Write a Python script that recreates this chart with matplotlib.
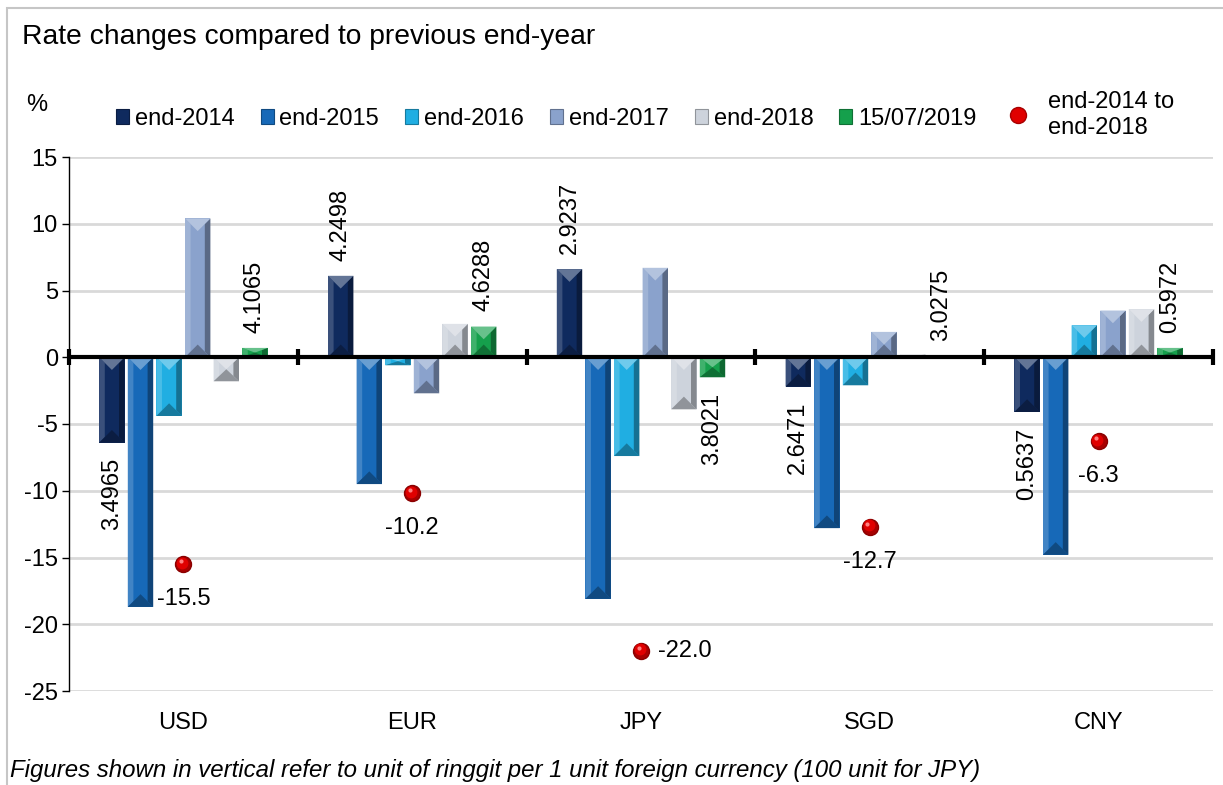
import numpy as np
import matplotlib
matplotlib.use("Agg")
import matplotlib.pyplot as plt
import matplotlib.transforms as mtransforms
from matplotlib import colors as mcolors
from matplotlib.patches import Polygon, Patch, Rectangle
from matplotlib.lines import Line2D

plt.rcParams['font.family'] = ['Liberation Sans', 'DejaVu Sans']
plt.rcParams['axes.unicode_minus'] = False

# --- data ---
CURRENCIES = ["USD", "EUR", "JPY", "SGD", "CNY"]
SERIES = ["end-2014", "end-2015", "end-2016", "end-2017", "end-2018", "15/07/2019"]
END_2014 = [-6.4, 6.1, 6.6, -2.2, -4.1]
END_2015 = [-18.7, -9.5, -18.1, -12.8, -14.8]
END_2016 = [-4.4, -0.6, -7.4, -2.1, 2.4]
END_2017 = [10.4, -2.7, 6.7, 1.9, 3.5]
END_2018 = [-1.8, 2.5, -3.9, 0.2, 3.6]
JUL_2019 = [0.7, 2.3, -1.5, 0.1, 0.7]
CUMULATIVE = [-15.5, -10.2, -22.0, -12.7, -6.3]
CUM_LABEL_SIDE = ["below", "below", "right", "below", "below"]
# ringgit per unit foreign currency, shown vertically
RATE_2014 = ["3.4965", "4.2498", "2.9237", "2.6471", "0.5637"]
RATE_2019 = ["4.1065", "4.6288", "3.8021", "3.0275", "0.5972"]

COLORS = ["#0f2a5e", "#1769b8", "#20aee2", "#8aa2cc", "#cdd3dc", "#15a04c"]
DOT_COLOR = "#e00000"

FS = 17


def shade(c, f):
    rgb = np.array(mcolors.to_rgb(c))
    if f > 0:
        return tuple(rgb + (1 - rgb) * f)
    return tuple(rgb * (1 + f))


def bevel(ax, bar, color):
    # fake the excel "angle" bevel with a few facets, built from the bar geometry
    inv = ax.transData.inverted()
    x0, y0 = ax.transData.transform((bar.get_x(), min(bar.get_y(), bar.get_y() + bar.get_height())))
    x1, y1 = ax.transData.transform((bar.get_x() + bar.get_width(), max(bar.get_y(), bar.get_y() + bar.get_height())))
    hw = (x1 - x0) / 2
    xc = x0 + hw
    d = min(hw, (y1 - y0) / 2)
    s = 0.22 * (x1 - x0)
    ds = d * s / hw
    facets = [
        ([(x0, y0), (x0 + s, y0 + ds), (x0 + s, y1 - ds), (x0, y1)], shade(color, 0.18)),
        ([(x1, y0), (x1 - s, y0 + ds), (x1 - s, y1 - ds), (x1, y1)], shade(color, -0.35)),
        ([(x0, y1), (x1, y1), (xc, y1 - d)], shade(color, 0.35)),
        ([(x0, y0), (x1, y0), (xc, y0 + d)], shade(color, -0.3)),
    ]
    for pts, fc in facets:
        data_pts = inv.transform(pts)
        ax.add_patch(Polygon(data_pts, closed=True, facecolor=fc, edgecolor="none", zorder=3))


fig = plt.figure(figsize=(12.23, 7.85), dpi=100)
ax = fig.add_axes([69 / 1223, 1 - 691 / 785, 1144 / 1223, 534 / 785])
ax.set_xlim(-0.5, len(CURRENCIES) - 0.5)
ax.set_ylim(-25, 15)

x = np.arange(len(CURRENCIES))
all_series = [END_2014, END_2015, END_2016, END_2017, END_2018, JUL_2019]
slot = 0.125
width = 0.111
bar_groups = []
for i, (name, vals) in enumerate(zip(SERIES, all_series)):
    bars = ax.bar(x + (i - 2.5) * slot, vals, width, color=COLORS[i], label=name, zorder=2)
    bar_groups.append(bars)
    for b in bars:
        bevel(ax, b, COLORS[i])

# vertical rate labels on end-2014 and 15/07/2019 bars
for bars, labels in ((bar_groups[0], RATE_2014), (bar_groups[5], RATE_2019)):
    for b, txt in zip(bars, labels):
        v = b.get_height()
        xc = b.get_x() + b.get_width() / 2
        ax.annotate(txt, (xc, v), xytext=(0, 11 if v >= 0 else -11), textcoords="offset points",
                    rotation=90, ha="center", va="bottom" if v >= 0 else "top", fontsize=FS, zorder=7)

# red spheres for cumulative change
off = mtransforms.offset_copy(ax.transData, fig=fig, x=-1.2, y=1.5, units="dots")
ax.plot(x, CUMULATIVE, ls="none", marker="o", ms=11.5, color="#a80000", mec="#8a0000", zorder=8)
ax.plot(x, CUMULATIVE, ls="none", marker="o", ms=8.5, color=DOT_COLOR, mec="none", zorder=9, transform=off)
off2 = mtransforms.offset_copy(ax.transData, fig=fig, x=-2.5, y=3, units="dots")
ax.plot(x, CUMULATIVE, ls="none", marker="o", ms=3, color="#ff8080", mec="none", zorder=10, transform=off2)
for xi, v, side in zip(x, CUMULATIVE, CUM_LABEL_SIDE):
    if side == "below":
        ax.annotate(f"{v:.1f}", (xi, v), xytext=(0, -25), textcoords="offset points",
                    ha="center", va="center", fontsize=FS, zorder=10)
    else:
        ax.annotate(f"{v:.1f}", (xi, v), xytext=(12, 0), textcoords="offset points",
                    ha="left", va="center", fontsize=FS, zorder=10)

# axis at zero with category boundary ticks
ax.axhline(0, color="black", lw=3, zorder=6)
bounds = np.arange(-0.5, len(CURRENCIES), 1.0)
ax.plot(bounds, np.zeros_like(bounds), ls="none", marker="|", ms=11, mew=3, color="black",
        clip_on=False, zorder=6)

ax.set_yticks(np.arange(-25, 16, 5))
ax.yaxis.grid(True, color="#d9d9d9", lw=2)
ax.set_axisbelow(True)
ax.set_xticks(x)
ax.set_xticklabels(CURRENCIES)
ax.tick_params(axis="x", length=0, pad=15, labelsize=FS)
ax.tick_params(axis="y", direction="out", length=5, width=1, pad=3, labelsize=FS)
for sp in ("top", "right", "bottom"):
    ax.spines[sp].set_visible(False)
ax.spines["left"].set_linewidth(1)

# legend: bar series in one row, the sphere entry on its own
handles = [Patch(facecolor=c, edgecolor=shade(c, -0.3), linewidth=0.8) for c in COLORS]
fig.legend(handles, SERIES, loc="center left", bbox_to_anchor=(116 / 1223, 1 - 119 / 785), ncol=6,
           frameon=False, fontsize=FS, handlelength=0.55, handleheight=0.6, handletextpad=0.25,
           columnspacing=1.1, borderaxespad=0, borderpad=0)
dot_handle = Line2D([], [], ls="none", marker="o", ms=11.5, color=DOT_COLOR, mec="#a80000")
fig.legend([dot_handle], ["end-2014 to\nend-2018"], loc="center left",
           bbox_to_anchor=(1003 / 1223, 1 - 115 / 785), frameon=False, fontsize=FS,
           handlelength=1.3, handletextpad=0.6, borderaxespad=0, borderpad=0)

fig.text(22 / 1223, 1 - 37 / 785, "Rate changes compared to previous end-year", fontsize=20.3, va="center")
fig.text(37 / 1223, 1 - 105 / 785, "%", fontsize=FS, ha="center", va="center")
fig.text(10 / 1223, 1 - 770 / 785,
         "Figures shown in vertical refer to unit of ringgit per 1 unit foreign currency (100 unit for JPY)",
         fontsize=17.3, style="italic", va="center")

fig.add_artist(Rectangle((7 / 1223, -0.1), 1.2, 1.1 - 8 / 785, transform=fig.transFigure,
                         fill=False, edgecolor="#c6c6c6", lw=1.5))

fig.savefig("out.png", dpi=100)
